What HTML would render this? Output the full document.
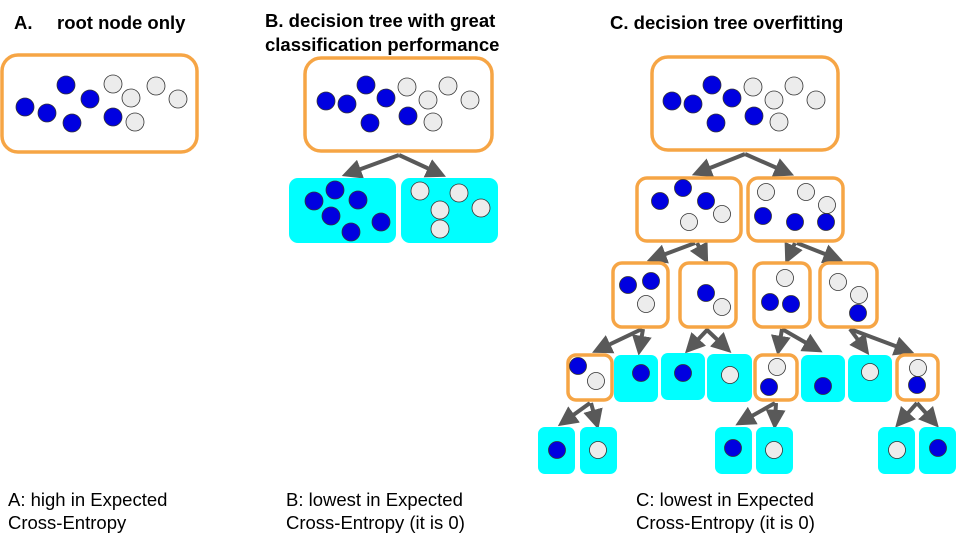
<!DOCTYPE html>
<html><head><meta charset="utf-8"><style>
html,body{margin:0;padding:0;background:#fff}
svg{display:block}
text{font-family:"Liberation Sans",Arial,sans-serif}
</style></head><body>
<svg width="960" height="540" viewBox="0 0 960 540" xmlns="http://www.w3.org/2000/svg">
<defs>
<marker id="ah" markerWidth="5" markerHeight="5" refX="2.8" refY="2.5" orient="auto" markerUnits="strokeWidth">
<path d="M0,0 L5,2.5 L0,5 z" fill="#595959"/></marker>
<style>
.o{fill:#fff;stroke:#f6a545;stroke-width:3.5}
.c{fill:#00ffff;stroke:none}
.b{fill:#0000e0;stroke:#333;stroke-width:0.8}
.g{fill:#ececec;stroke:#333;stroke-width:0.8}
.a{stroke:#595959;stroke-width:4;fill:none;marker-end:url(#ah)}
.t{font-size:18.5px;font-weight:bold;fill:#000}
.n{font-size:18.5px;fill:#000}
</style>
</defs>
<text class="t" x="14" y="29">A.<tspan x="57">root node only</tspan></text>
<text class="t" x="265" y="27">B. decision tree with great</text>
<text class="t" x="265" y="51">classification performance</text>
<text class="t" x="610" y="29">C. decision tree overfitting</text>

<!-- A -->
<rect class="o" x="2" y="55" width="195" height="97" rx="16"/>
<circle class="b" cx="25" cy="107" r="9"/><circle class="b" cx="47" cy="113" r="9"/><circle class="b" cx="66" cy="85" r="9"/><circle class="b" cx="72" cy="123" r="9"/><circle class="b" cx="90" cy="99" r="9"/><circle class="b" cx="113" cy="117" r="9"/>
<circle class="g" cx="113" cy="84" r="9"/><circle class="g" cx="131" cy="98" r="9"/><circle class="g" cx="156" cy="86" r="9"/><circle class="g" cx="135" cy="122" r="9"/><circle class="g" cx="178" cy="99" r="9"/>

<!-- B -->
<rect class="o" x="305" y="58" width="187" height="93" rx="16"/>
<circle class="b" cx="326" cy="101" r="9"/><circle class="b" cx="347" cy="104" r="9"/><circle class="b" cx="366" cy="85" r="9"/><circle class="b" cx="386" cy="98" r="9"/><circle class="b" cx="370" cy="123" r="9"/><circle class="b" cx="408" cy="116" r="9"/>
<circle class="g" cx="407" cy="87" r="9"/><circle class="g" cx="428" cy="100" r="9"/><circle class="g" cx="448" cy="86" r="9"/><circle class="g" cx="470" cy="100" r="9"/><circle class="g" cx="433" cy="122" r="9"/>
<line class="a" x1="399" y1="155" x2="350" y2="173"/>
<line class="a" x1="399" y1="155" x2="438" y2="173"/>
<rect class="c" x="289" y="178" width="107" height="65" rx="9"/>
<rect class="c" x="401" y="178" width="97" height="65" rx="9"/>
<circle class="b" cx="314" cy="201" r="9"/><circle class="b" cx="335" cy="190" r="9"/><circle class="b" cx="358" cy="200" r="9"/><circle class="b" cx="331" cy="216" r="9"/><circle class="b" cx="351" cy="232" r="9"/><circle class="b" cx="381" cy="222" r="9"/>
<circle class="g" cx="420" cy="191" r="9"/><circle class="g" cx="459" cy="193" r="9"/><circle class="g" cx="481" cy="208" r="9"/><circle class="g" cx="440" cy="210" r="9"/><circle class="g" cx="440" cy="229" r="9"/>

<!-- C root -->
<rect class="o" x="652" y="57" width="186" height="93" rx="16"/>
<circle class="b" cx="672" cy="101" r="9"/><circle class="b" cx="693" cy="104" r="9"/><circle class="b" cx="712" cy="85" r="9"/><circle class="b" cx="732" cy="98" r="9"/><circle class="b" cx="716" cy="123" r="9"/><circle class="b" cx="754" cy="116" r="9"/>
<circle class="g" cx="753" cy="87" r="9"/><circle class="g" cx="774" cy="100" r="9"/><circle class="g" cx="794" cy="86" r="9"/><circle class="g" cx="816" cy="100" r="9"/><circle class="g" cx="779" cy="122" r="9"/>
<line class="a" x1="745" y1="154" x2="700" y2="172"/>
<line class="a" x1="745" y1="154" x2="786" y2="172"/>

<!-- level 2 -->
<line class="a" x1="695" y1="243" x2="655" y2="258"/>
<line class="a" x1="697" y1="243" x2="704" y2="256"/>
<line class="a" x1="795" y1="243" x2="789" y2="256"/>
<line class="a" x1="797" y1="243" x2="835" y2="258"/>
<rect class="o" x="637" y="178" width="104" height="63" rx="10"/>
<rect class="o" x="748" y="178" width="95" height="63" rx="10"/>
<circle class="b" cx="660" cy="201" r="8.5"/><circle class="b" cx="683" cy="188" r="8.5"/><circle class="b" cx="706" cy="201" r="8.5"/><circle class="g" cx="689" cy="222" r="8.5"/><circle class="g" cx="722" cy="214" r="8.5"/>
<circle class="g" cx="766" cy="192" r="8.5"/><circle class="g" cx="806" cy="192" r="8.5"/><circle class="g" cx="827" cy="205" r="8.5"/><circle class="b" cx="763" cy="216" r="8.5"/><circle class="b" cx="795" cy="222" r="8.5"/><circle class="b" cx="826" cy="222" r="8.5"/>

<!-- level 3 arrows -->
<line class="a" x1="642" y1="329" x2="600" y2="349"/>
<line class="a" x1="643" y1="329" x2="640" y2="347"/>
<line class="a" x1="708" y1="329" x2="691" y2="347"/>
<line class="a" x1="706" y1="329" x2="725" y2="347"/>
<line class="a" x1="782" y1="329" x2="779" y2="347"/>
<line class="a" x1="782" y1="329" x2="815" y2="348"/>
<line class="a" x1="850" y1="329" x2="864" y2="348"/>
<line class="a" x1="850" y1="329" x2="906" y2="350"/>
<rect class="o" x="613" y="263" width="55" height="64" rx="9"/>
<rect class="o" x="680" y="263" width="56" height="64" rx="9"/>
<rect class="o" x="754" y="263" width="56" height="64" rx="9"/>
<rect class="o" x="820" y="263" width="57" height="64" rx="9"/>
<circle class="b" cx="628" cy="285" r="8.5"/><circle class="b" cx="651" cy="281" r="8.5"/><circle class="g" cx="646" cy="304" r="8.5"/>
<circle class="b" cx="706" cy="293" r="8.5"/><circle class="g" cx="722" cy="307" r="8.5"/>
<circle class="g" cx="785" cy="278" r="8.5"/><circle class="b" cx="770" cy="302" r="8.5"/><circle class="b" cx="791" cy="304" r="8.5"/>
<circle class="g" cx="838" cy="282" r="8.5"/><circle class="g" cx="859" cy="295" r="8.5"/><circle class="b" cx="858" cy="313" r="8.5"/>

<!-- level 4 -->
<line class="a" x1="590" y1="403" x2="565" y2="421"/>
<line class="a" x1="591" y1="403" x2="596" y2="421"/>
<line class="a" x1="775" y1="403" x2="743" y2="421"/>
<line class="a" x1="776" y1="403" x2="775" y2="421"/>
<line class="a" x1="917" y1="403" x2="901" y2="421"/>
<line class="a" x1="917" y1="403" x2="933" y2="421"/>
<rect class="o" x="568" y="355" width="44" height="45" rx="8"/>
<rect class="c" x="614" y="355" width="44" height="47" rx="7"/>
<rect class="c" x="661" y="353" width="44" height="47" rx="7"/>
<rect class="c" x="707" y="354" width="45" height="48" rx="7"/>
<rect class="o" x="755" y="355" width="42" height="45" rx="8"/>
<rect class="c" x="801" y="355" width="44" height="47" rx="7"/>
<rect class="c" x="848" y="355" width="44" height="47" rx="7"/>
<rect class="o" x="897" y="355" width="41" height="45" rx="8"/>
<circle class="b" cx="578" cy="366" r="8.5"/><circle class="g" cx="596" cy="381" r="8.5"/>
<circle class="b" cx="641" cy="373" r="8.5"/>
<circle class="b" cx="683" cy="373" r="8.5"/>
<circle class="g" cx="730" cy="375" r="8.5"/>
<circle class="g" cx="777" cy="367" r="8.5"/><circle class="b" cx="769" cy="387" r="8.5"/>
<circle class="b" cx="823" cy="386" r="8.5"/>
<circle class="g" cx="870" cy="372" r="8.5"/>
<circle class="g" cx="918" cy="368" r="8.5"/><circle class="b" cx="917" cy="385" r="8.5"/>

<!-- level 5 -->
<rect class="c" x="538" y="427" width="37" height="47" rx="7"/>
<rect class="c" x="580" y="427" width="37" height="47" rx="7"/>
<rect class="c" x="715" y="427" width="37" height="47" rx="7"/>
<rect class="c" x="756" y="427" width="37" height="47" rx="7"/>
<rect class="c" x="878" y="427" width="37" height="47" rx="7"/>
<rect class="c" x="919" y="427" width="37" height="47" rx="7"/>
<circle class="b" cx="557" cy="450" r="8.5"/><circle class="g" cx="598" cy="450" r="8.5"/>
<circle class="b" cx="733" cy="448" r="8.5"/><circle class="g" cx="774" cy="450" r="8.5"/>
<circle class="g" cx="897" cy="450" r="8.5"/><circle class="b" cx="938" cy="448" r="8.5"/>

<!-- captions -->
<text class="n" x="8" y="506">A: high in Expected</text>
<text class="n" x="8" y="529">Cross-Entropy</text>
<text class="n" x="286" y="506">B: lowest in Expected</text>
<text class="n" x="286" y="529">Cross-Entropy (it is 0)</text>
<text class="n" x="636" y="506">C: lowest in Expected</text>
<text class="n" x="636" y="529">Cross-Entropy (it is 0)</text>
</svg>
</body></html>
